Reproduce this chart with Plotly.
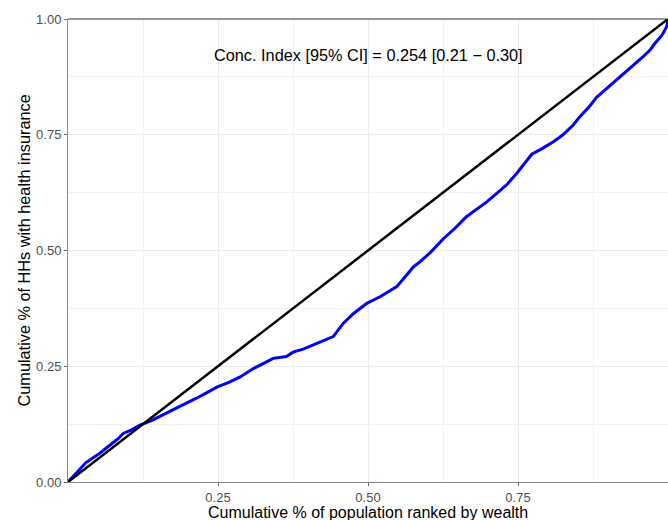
import plotly.graph_objects as go

# Concentration curve
pop_x = [0.0, 0.014, 0.03, 0.053, 0.07, 0.084, 0.092, 0.105, 0.12, 0.14, 0.158, 0.176,
         0.195, 0.214, 0.23, 0.248, 0.268, 0.287, 0.309, 0.325, 0.342, 0.364, 0.376,
         0.392, 0.409, 0.425, 0.442, 0.459, 0.476, 0.498, 0.52, 0.548, 0.564, 0.576,
         0.587, 0.605, 0.626, 0.645, 0.664, 0.682, 0.698, 0.714, 0.732, 0.748, 0.773,
         0.79, 0.809, 0.825, 0.842, 0.853, 0.867, 0.881, 0.905, 0.931, 0.942, 0.958,
         0.97, 0.978, 0.99, 0.998, 1.0]
cum_ins = [0.0, 0.019, 0.042, 0.062, 0.08, 0.094, 0.105, 0.112, 0.123, 0.133, 0.145, 0.156,
           0.168, 0.181, 0.192, 0.205, 0.215, 0.227, 0.245, 0.256, 0.267, 0.271, 0.281,
           0.287, 0.296, 0.304, 0.314, 0.343, 0.364, 0.386, 0.4, 0.422, 0.447, 0.465,
           0.476, 0.497, 0.526, 0.548, 0.573, 0.59, 0.605, 0.623, 0.643, 0.667, 0.708,
           0.72, 0.735, 0.75, 0.771, 0.789, 0.808, 0.831, 0.858, 0.886, 0.9, 0.918,
           0.933, 0.947, 0.965, 0.984, 1.0]

equality = [0.0, 1.0]

y_ticks = [0.0, 0.25, 0.5, 0.75, 1.0]
y_labels = ["0.00", "0.25", "0.50", "0.75", "1.00"]
x_ticks = [0.25, 0.5, 0.75]
x_labels = ["0.25", "0.50", "0.75"]
minor_ticks = [0.125, 0.375, 0.625, 0.875]

title_text = "Conc. Index [95% CI] = 0.254 [0.21 \u2212 0.30]"
x_title = "Cumulative % of population ranked by wealth"
y_title = "Cumulative % of HHs with health insurance"

fig = go.Figure()
fig.add_trace(go.Scatter(x=pop_x, y=cum_ins, mode="lines",
                         line=dict(color="#0000ff", width=3), showlegend=False))
fig.add_trace(go.Scatter(x=equality, y=equality, mode="lines",
                         line=dict(color="#000000", width=2.5), showlegend=False))

font_family = "Liberation Sans, Arial, sans-serif"
axis_common = dict(
    range=[0, 1], automargin=False, showgrid=True, gridcolor="#ebebeb", gridwidth=1.1,
    zeroline=False, showline=True, linecolor="#888888", linewidth=1,
    ticks="outside", ticklen=3, tickcolor="#666666", tickwidth=1,
    tickfont=dict(family=font_family, size=13, color="#4d4d4d"),
    minor=dict(tickmode="array", tickvals=minor_ticks, ticks="",
               showgrid=True, gridcolor="#f2f2f2", gridwidth=0.6),
)

fig.update_xaxes(**axis_common, tickmode="array", tickvals=x_ticks, ticktext=x_labels)
fig.update_yaxes(**axis_common, tickmode="array", tickvals=y_ticks, ticktext=y_labels)

fig.add_shape(type="line", xref="paper", yref="paper", x0=0, x1=1, y0=1, y1=1,
              line=dict(color="#333333", width=1))

fig.add_annotation(text=title_text, xref="x", yref="paper", x=0.5, y=0.947,
                   showarrow=False, font=dict(family=font_family, size=16.3, color="#000000"))
fig.add_annotation(text=x_title, xref="paper", yref="paper", x=0.5, y=-0.066,
                   yanchor="middle", showarrow=False,
                   font=dict(family=font_family, size=16, color="#000000"))
fig.add_annotation(text=y_title, xref="paper", yref="paper", x=-0.075, y=0.5,
                   xanchor="center", yanchor="middle", textangle=-90, showarrow=False,
                   font=dict(family=font_family, size=16.3, color="#000000"))

fig.update_layout(width=668, height=520, margin=dict(l=68, r=0, t=19, b=38),
                  plot_bgcolor="white", paper_bgcolor="white")

fig.write_html("out.html", config={"displayModeBar": False},
               post_script="document.body.style.margin='0';document.body.style.overflow='hidden';")
